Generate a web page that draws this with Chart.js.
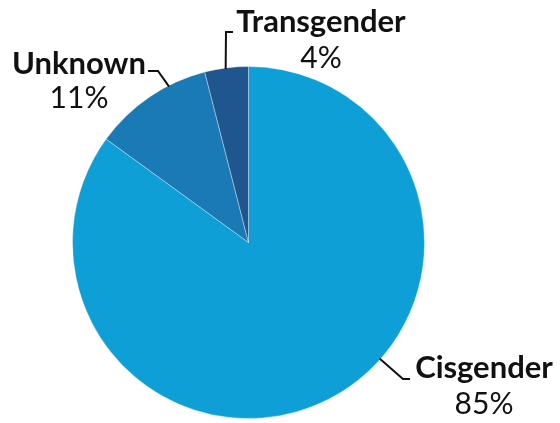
<!DOCTYPE html>
<html>
<head>
<meta charset="utf-8">
<script src="https://cdn.jsdelivr.net/npm/chart.js@4/dist/chart.umd.min.js"></script>
<style>
  html, body { margin: 0; padding: 0; background: #fff; }
  canvas { display: block; }
</style>
</head>
<body>
<canvas id="gender" width="560" height="423"></canvas>
<script>
// Gender identity breakdown
var categories = ['Cisgender', 'Unknown', 'Transgender'];
var shares = [85, 11, 4];
var sliceColors = ['#0e9fd6', '#1a7ab6', '#1f5690'];

// Where each callout sits: angle on the rim (deg, clockwise from 12 o'clock),
// elbow point and text anchor in canvas pixels.
var callouts = [
    { angle: 131.5, elbow: [403, 379], end: [410, 379], text: [484, 378], below: 36 },
    { angle: 333, elbow: [158, 71], end: [148, 71], text: [79, 74], below: 34 },
    { angle: 352.5, elbow: [226, 32], end: [233, 32], text: [321, 32], below: 36 }
];

var calloutPlugin = {
    id: 'callouts',
    afterDraw: function(chart) {
        var ctx = chart.ctx;
        var arcs = chart.getDatasetMeta(0).data;
        ctx.save();
        callouts.forEach(function(c, i) {
            var arc = arcs[i];
            var a = (c.angle - 90) * Math.PI / 180;
            var r = arc.outerRadius - 1;
            var sx = arc.x + Math.cos(a) * r;
            var sy = arc.y + Math.sin(a) * r;

            ctx.beginPath();
            ctx.strokeStyle = '#111';
            ctx.lineWidth = 2;
            ctx.moveTo(sx, sy);
            ctx.lineTo(c.elbow[0], c.elbow[1]);
            ctx.lineTo(c.end[0], c.end[1]);
            ctx.stroke();

            ctx.fillStyle = '#111';
            ctx.textAlign = 'center';
            ctx.textBaseline = 'alphabetic';
            ctx.font = 'bold 31px Lato, "Noto Sans", sans-serif';
            ctx.fillText(categories[i], c.text[0], c.text[1]);
            ctx.font = '30px Lato, "Noto Sans", sans-serif';
            ctx.fillText(shares[i] + '%', c.text[0], c.text[1] + c.below);
        });
        ctx.restore();
    }
};

new Chart(document.getElementById('gender').getContext('2d'), {
    type: 'pie',
    data: {
        labels: categories,
        datasets: [{
            data: shares,
            backgroundColor: sliceColors,
            borderColor: 'rgba(255,255,255,0.35)',
            borderWidth: 1
        }]
    },
    options: {
        responsive: false,
        animation: false,
        layout: {
            padding: { left: 72, top: 66, right: 135, bottom: 4 }
        },
        plugins: {
            legend: { display: false },
            tooltip: { enabled: false }
        }
    },
    plugins: [calloutPlugin]
});
</script>
</body>
</html>
